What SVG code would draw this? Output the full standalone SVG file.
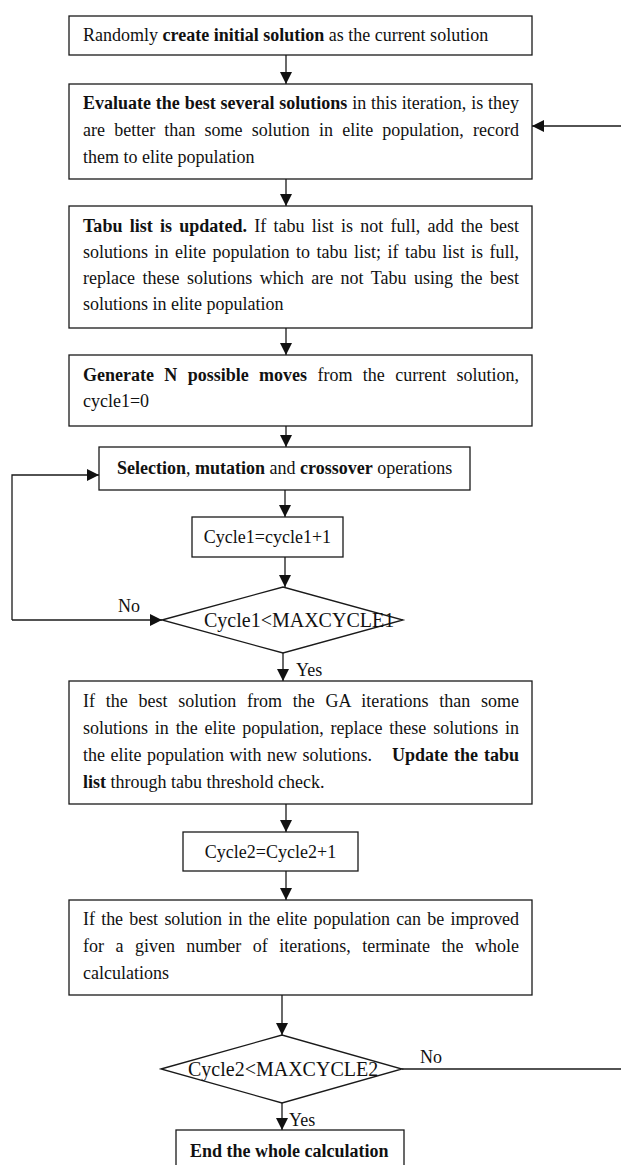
<svg xmlns="http://www.w3.org/2000/svg" width="621" height="1165" viewBox="0 0 621 1165">
<style>
text{font-family:"Liberation Serif","Times New Roman",serif;font-size:18px;fill:#111}
.b{font-weight:bold}
.box{fill:#fff;stroke:#1a1a1a;stroke-width:1.3}
.con{fill:none;stroke:#1a1a1a;stroke-width:1.3}
.dt{font-size:20px}
</style>
<defs>
<marker id="ah" markerUnits="userSpaceOnUse" markerWidth="12" markerHeight="12" refX="12" refY="6" orient="auto">
<path d="M0,0 L12,6 L0,12 z" fill="#111"/>
</marker>
</defs>
<rect width="621" height="1165" fill="#fff"/>
<g id="connectors">
<path class="con" d="M286,55 V84" marker-end="url(#ah)"/>
<path class="con" d="M621,126 H532" marker-end="url(#ah)"/>
<path class="con" d="M286,179 V206" marker-end="url(#ah)"/>
<path class="con" d="M286,328 V355" marker-end="url(#ah)"/>
<path class="con" d="M286,426 V447" marker-end="url(#ah)"/>
<path class="con" d="M285,490 V517" marker-end="url(#ah)"/>
<path class="con" d="M285,557 V587" marker-end="url(#ah)"/>
<path class="con" d="M12,620 H162" marker-end="url(#ah)"/>
<path class="con" d="M12,620 V475 H99" marker-end="url(#ah)"/>
<path class="con" d="M283,653 V681" marker-end="url(#ah)"/>
<path class="con" d="M286,804 V832" marker-end="url(#ah)"/>
<path class="con" d="M286,871 V900" marker-end="url(#ah)"/>
<path class="con" d="M282,995 V1035" marker-end="url(#ah)"/>
<path class="con" d="M282,1103 V1130" marker-end="url(#ah)"/>
<path class="con" d="M402,1069 H621"/>
<text x="118" y="612">No</text>
<text x="296" y="676">Yes</text>
<text x="420" y="1063">No</text>
<text x="289" y="1126">Yes</text>
</g>
<g id="n1">
<rect class="box" x="69" y="16" width="463" height="39"/>
<text x="83" y="41">Randomly <tspan class="b">create initial solution</tspan> as the current solution</text>
</g>
<g id="n2">
<rect class="box" x="69" y="84" width="463" height="95"/>
<text x="83" y="109" word-spacing="0.3" textLength="436" lengthAdjust="spacing"><tspan class="b">Evaluate the best several solutions</tspan> in this iteration, is they</text>
<text x="83" y="136" word-spacing="4.7" textLength="436" lengthAdjust="spacing">are better than some solution in elite population, record</text>
<text x="83" y="163">them to elite population</text>
</g>
<g id="n3">
<rect class="box" x="69" y="206" width="463" height="122"/>
<text x="83" y="232" word-spacing="2.7" textLength="436" lengthAdjust="spacing"><tspan class="b">Tabu list is updated.</tspan> If tabu list is not full, add the best</text>
<text x="83" y="258" word-spacing="2" textLength="436" lengthAdjust="spacing">solutions in elite population to tabu list; if tabu list is full,</text>
<text x="83" y="284" word-spacing="2.9" textLength="436" lengthAdjust="spacing">replace these solutions which are not Tabu using the best</text>
<text x="83" y="310">solutions in elite population</text>
</g>
<g id="n4">
<rect class="box" x="69" y="355" width="463" height="71"/>
<text x="83" y="381" word-spacing="5.9" textLength="436" lengthAdjust="spacing"><tspan class="b">Generate N possible moves</tspan> from the current solution,</text>
<text x="83" y="407">cycle1=0</text>
</g>
<g id="n5">
<rect class="box" x="99" y="447" width="371" height="43"/>
<text x="117" y="474"><tspan class="b">Selection</tspan>, <tspan class="b">mutation</tspan> and <tspan class="b">crossover</tspan> operations</text>
</g>
<g id="n6">
<rect class="box" x="192" y="517" width="151" height="40"/>
<text x="267.5" y="543" text-anchor="middle">Cycle1=cycle1+1</text>
</g>
<g id="n7">
<polygon class="box" points="162,620 283,587 403,620 283,653"/>
<text class="dt" x="204" y="627">Cycle1&lt;MAXCYCLE1</text>
</g>
<g id="n8">
<rect class="box" x="69" y="681" width="463" height="123"/>
<text x="83" y="707" word-spacing="6.2" textLength="436" lengthAdjust="spacing">If the best solution from the GA iterations than some</text>
<text x="83" y="734" word-spacing="2.3" textLength="436" lengthAdjust="spacing">solutions in the elite population, replace these solutions in</text>
<text x="83" y="761" word-spacing="1">the elite population with new solutions.</text>
<text class="b" x="519" y="761" text-anchor="end" word-spacing="1.5">Update the tabu</text>
<text x="83" y="788"><tspan class="b">list</tspan> through tabu threshold check.</text>
</g>
<g id="n9">
<rect class="box" x="183" y="832" width="175" height="39"/>
<text x="270.5" y="858" text-anchor="middle">Cycle2=Cycle2+1</text>
</g>
<g id="n10">
<rect class="box" x="69" y="900" width="463" height="95"/>
<text x="83" y="925" word-spacing="1.9" textLength="436" lengthAdjust="spacing">If the best solution in the elite population can be improved</text>
<text x="83" y="952" word-spacing="7" textLength="436" lengthAdjust="spacing">for a given number of iterations, terminate the whole</text>
<text x="83" y="979">calculations</text>
</g>
<g id="n11">
<polygon class="box" points="161,1069 282,1035 402,1069 282,1103"/>
<text class="dt" x="188" y="1076">Cycle2&lt;MAXCYCLE2</text>
</g>
<g id="n12">
<rect class="box" x="176" y="1130" width="228" height="40"/>
<text class="b" x="190" y="1157">End the whole calculation</text>
</g>
</svg>
